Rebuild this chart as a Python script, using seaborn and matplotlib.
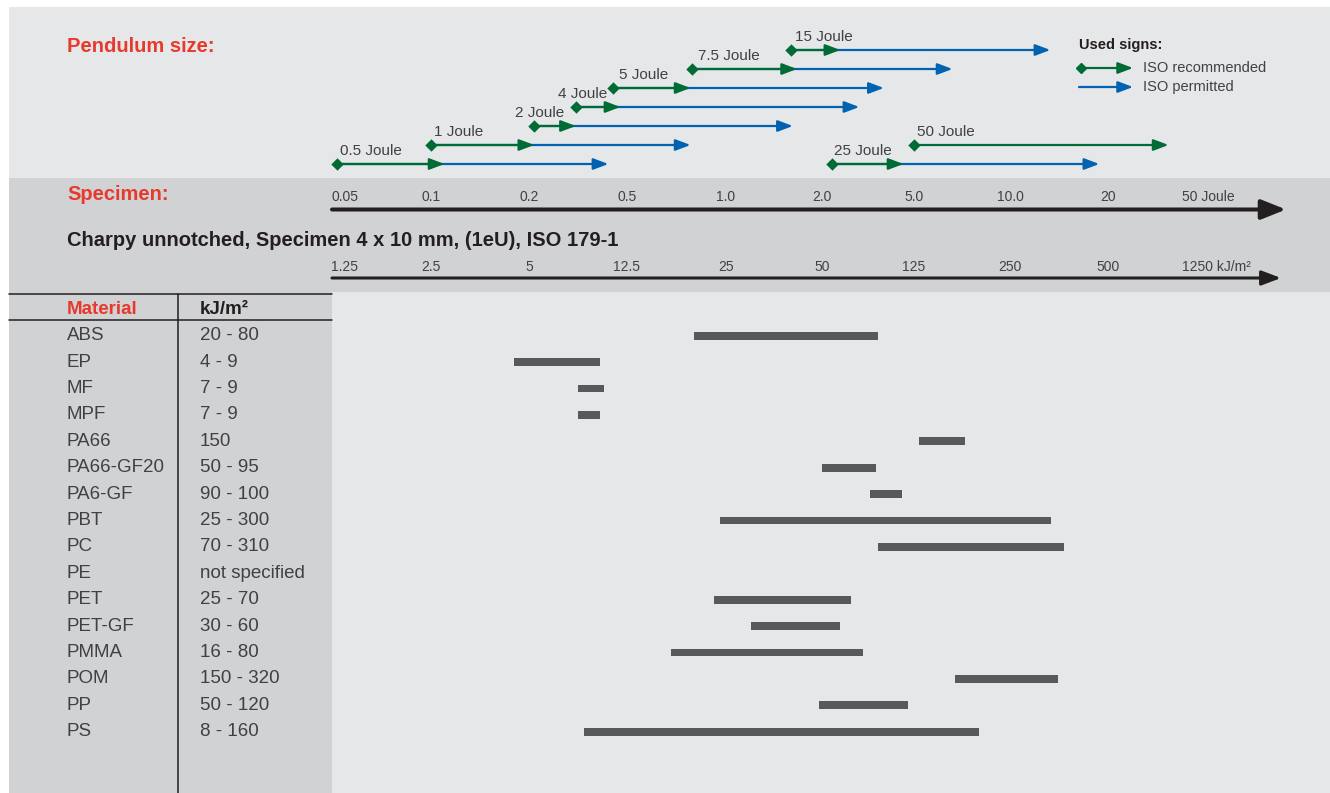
import numpy as np
import matplotlib
matplotlib.use("Agg")
import matplotlib.pyplot as plt
import matplotlib.transforms as mtransforms
from matplotlib.lines import Line2D
from matplotlib.patches import Rectangle, FancyArrowPatch
import seaborn as sns

# pendulum ranges in Joule
pendulums = ["0.5", "1", "2", "4", "5", "7.5", "15", "25", "50"]
pend_level = [0, 1, 2, 3, 4, 5, 6, 0, 1]
pend_start = [0.05, 0.1, 0.21, 0.31, 0.44, 0.79, 1.6, 2.2, 5.0]
pend_recommended_end = [0.11, 0.21, 0.31, 0.47, 0.78, 1.67, 2.4, 4.5, 40]
pend_permitted_end = [0.42, 0.78, 1.62, 2.9, 3.7, 6.6, 13.3, 18.8, np.nan]

# axis ticks
joule_ticks = [0.05, 0.1, 0.2, 0.5, 1, 2, 5, 10, 20, 50]
joule_labels = ["0.05", "0.1", "0.2", "0.5", "1.0", "2.0", "5.0", "10.0", "20", "50 Joule"]
kj_ticks = [1.25, 2.5, 5, 12.5, 25, 50, 125, 250, 500, 1250]
kj_labels = ["1.25", "2.5", "5", "12.5", "25", "50", "125", "250", "500", "1250 kJ/m²"]

# materials (kJ/m²)
materials = ["ABS", "EP", "MF", "MPF", "PA66", "PA66-GF20", "PA6-GF", "PBT", "PC", "PE",
             "PET", "PET-GF", "PMMA", "POM", "PP", "PS"]
range_text = ["20 - 80", "4 - 9", "7 - 9", "7 - 9", "150", "50 - 95", "90 - 100", "25 - 300",
              "70 - 310", "not specified", "25 - 70", "30 - 60", "16 - 80", "150 - 320",
              "50 - 120", "8 - 160"]
bar_low = [20, 4.5, 7.9, 7.9, 130, 50, 81, 24, 87, np.nan, 23, 30, 17, 168, 49, 8.4]
bar_high = [87, 9.7, 10.1, 9.7, 181, 86, 111, 335, 367, np.nan, 67, 60, 75, 350, 118, 200]

W, H = 1330, 793
TICK_PX = np.array([337, 431, 529, 627, 726, 822, 914, 1010, 1108, 1188], float)

GREEN = "#006b35"
BLUE = "#0062b1"
RED = "#e8392d"
TXT = "#414042"
INK = "#231f20"
BAR = "#58595b"
LIGHT = "#e6e7e8"
DARK = "#d1d2d4"


def fx(px):
    return px / W


def fy(py):
    return 1 - py / H


def make_scale(ticks):
    # equally spaced ticks, log-interpolated in between
    lt = np.log10(ticks)
    s0 = (TICK_PX[1] - TICK_PX[0]) / (lt[1] - lt[0])
    s1 = (TICK_PX[-1] - TICK_PX[-2]) / (lt[-1] - lt[-2])

    def fwd(v):
        lv = np.log10(np.clip(np.asarray(v, float), 1e-12, None))
        out = np.interp(lv, lt, TICK_PX)
        out = np.where(lv < lt[0], TICK_PX[0] + (lv - lt[0]) * s0, out)
        out = np.where(lv > lt[-1], TICK_PX[-1] + (lv - lt[-1]) * s1, out)
        return out

    def inv(x):
        x = np.asarray(x, float)
        lv = np.interp(x, TICK_PX, lt)
        lv = np.where(x < TICK_PX[0], lt[0] + (x - TICK_PX[0]) / s0, lv)
        lv = np.where(x > TICK_PX[-1], lt[-1] + (x - TICK_PX[-1]) / s1, lv)
        return 10 ** lv

    return fwd, inv


def fig_arrow(x0, x1, y, style, color, lw):
    fig.add_artist(FancyArrowPatch((fx(x0), fy(y)), (fx(x1), fy(y)), transform=fig.transFigure,
                                   arrowstyle=style, mutation_scale=20, color=color, lw=lw,
                                   shrinkA=0, shrinkB=0))


sns.set_theme(style="white")
plt.rcParams["font.family"] = ["Liberation Sans", "DejaVu Sans"]

fig = plt.figure(figsize=(W / 100, H / 100), dpi=100)
fig.patch.set_facecolor("white")

# background panels
for x0, y0, x1, y1, c in [(9, 7, W, 178, LIGHT), (9, 178, W, 292, DARK),
                          (9, 292, 332, H, DARK), (332, 292, W, H, LIGHT)]:
    fig.add_artist(Rectangle((fx(x0), fy(y1)), fx(x1) - fx(x0), fy(y0) - fy(y1),
                             transform=fig.transFigure, color=c, zorder=-5, lw=0))

# ---- pendulum panel (Joule scale)
ax_p = fig.add_axes([0, fy(292), 1, (292 - 7) / H])
fwd_j, inv_j = make_scale(joule_ticks)
ax_p.set_xscale("function", functions=(fwd_j, inv_j))
ax_p.set_facecolor("none")
ax_p.axis("off")

head = "-|>,head_length=0.45,head_width=0.17"
label_dx = [2, 2, -14, -13, 4, 4, 3, 2, 2]
for i, p in enumerate(pendulums):
    y = pend_level[i]
    if not np.isnan(pend_permitted_end[i]):
        ax_p.annotate("", xy=(pend_permitted_end[i], y), xytext=(pend_start[i], y),
                      arrowprops=dict(arrowstyle=head, color=BLUE, lw=1.6, shrinkA=0, shrinkB=0,
                                      mutation_scale=20), zorder=2)
    ax_p.annotate("", xy=(pend_recommended_end[i], y), xytext=(pend_start[i], y),
                  arrowprops=dict(arrowstyle=head, color=GREEN, lw=1.6, shrinkA=0, shrinkB=0,
                                  mutation_scale=20), zorder=3)
    ax_p.annotate(f"{p} Joule", xy=(pend_start[i], y), xytext=(label_dx[i], 9.5),
                  textcoords="offset points", ha="left", va="center", fontsize=11, color=TXT)
sns.scatterplot(x=pend_start, y=pend_level, marker="D", s=40, color=GREEN, linewidth=0,
                ax=ax_p, zorder=4, legend=False)
ax_p.set_xlim(inv_j(0), inv_j(W))
ax_p.set_ylim((164 - 292) / 19, (164 - 7) / 19)

# Joule axis
fig_arrow(332, 1286, 209.5, "-|>,head_length=0.75,head_width=0.3", INK, 2.9)
for i, (v, lab) in enumerate(zip(joule_ticks, joule_labels)):
    edge = i in (0, len(joule_ticks) - 1)
    ax_p.annotate(lab, xy=(v, fy(197)), xycoords=("data", "figure fraction"),
                  xytext=(-4 if edge else 0, 0), textcoords="offset points",
                  ha="left" if edge else "center", va="center", fontsize=10, color=TXT)

# ---- materials panel (kJ/m² scale)
ax_m = fig.add_axes([0, 0, 1, (H - 292) / H])
fwd_k, inv_k = make_scale(kj_ticks)
ax_m.set_xscale("function", functions=(fwd_k, inv_k))
ax_m.set_facecolor("none")
ax_m.axis("off")

low = np.array(bar_low)
high = np.array(bar_high)
rows = np.arange(len(materials))
ok = ~np.isnan(low)
ax_m.barh(rows[ok], high[ok] - low[ok], left=low[ok], height=0.29, color=BAR, lw=0)
ax_m.set_xlim(inv_k(0), inv_k(W))
ax_m.set_ylim((H - 335.7) / 26.4, (292 - 335.7) / 26.4)

fig_arrow(332, 1281, 278, "-|>,head_length=0.58,head_width=0.22", INK, 2.2)
for i, (v, lab) in enumerate(zip(kj_ticks, kj_labels)):
    edge = i in (0, len(kj_ticks) - 1)
    ax_m.annotate(lab, xy=(v, fy(267)), xycoords=("data", "figure fraction"),
                  xytext=(-4 if edge else 0, 0), textcoords="offset points",
                  ha="left" if edge else "center", va="center", fontsize=10, color=TXT)

# table
tr = mtransforms.blended_transform_factory(fig.transFigure, ax_m.transData)
ax_m.text(fx(67), -1, "Material", transform=tr, ha="left", va="center", fontsize=13.5,
          fontweight="bold", color=RED)
ax_m.text(fx(200), -1, "kJ/m²", transform=tr, ha="left", va="center", fontsize=13.5,
          fontweight="bold", color=INK)
for i, (m, r) in enumerate(zip(materials, range_text)):
    ax_m.text(fx(67), i, m, transform=tr, ha="left", va="center", fontsize=13.5, color=TXT)
    ax_m.text(fx(200), i, r, transform=tr, ha="left", va="center", fontsize=13.5, color=TXT)
for (x0, y0, x1, y1) in [(9, 294, 332, 294), (9, 320, 332, 320), (178, 294, 178, H)]:
    fig.add_artist(Line2D([fx(x0), fx(x1)], [fy(y0), fy(y1)], transform=fig.transFigure,
                          color=INK, lw=1.1))

# titles
fig.text(fx(67), fy(47), "Pendulum size:", ha="left", va="center", fontsize=14.5,
         fontweight="bold", color=RED)
fig.text(fx(67), fy(195), "Specimen:", ha="left", va="center", fontsize=14.5,
         fontweight="bold", color=RED)
fig.text(fx(67), fy(241), "Charpy unnotched, Specimen 4 x 10 mm, (1eU), ISO 179-1",
         ha="left", va="center", fontsize=14.5, fontweight="bold", color=INK)

# legend
fig.text(fx(1079), fy(45), "Used signs:", ha="left", va="center", fontsize=10.5,
         fontweight="bold", color=INK)
fig_arrow(1081, 1133, 68, head, GREEN, 1.6)
fig.add_artist(Line2D([fx(1081)], [fy(68)], marker="D", markersize=4.6, color=GREEN, lw=0,
                      transform=fig.transFigure))
fig_arrow(1079, 1133, 87, head, BLUE, 1.6)
fig.text(fx(1143), fy(68), "ISO recommended", ha="left", va="center", fontsize=10.5, color=TXT)
fig.text(fx(1143), fy(87), "ISO permitted", ha="left", va="center", fontsize=10.5, color=TXT)

fig.savefig("out.png", dpi=100)
